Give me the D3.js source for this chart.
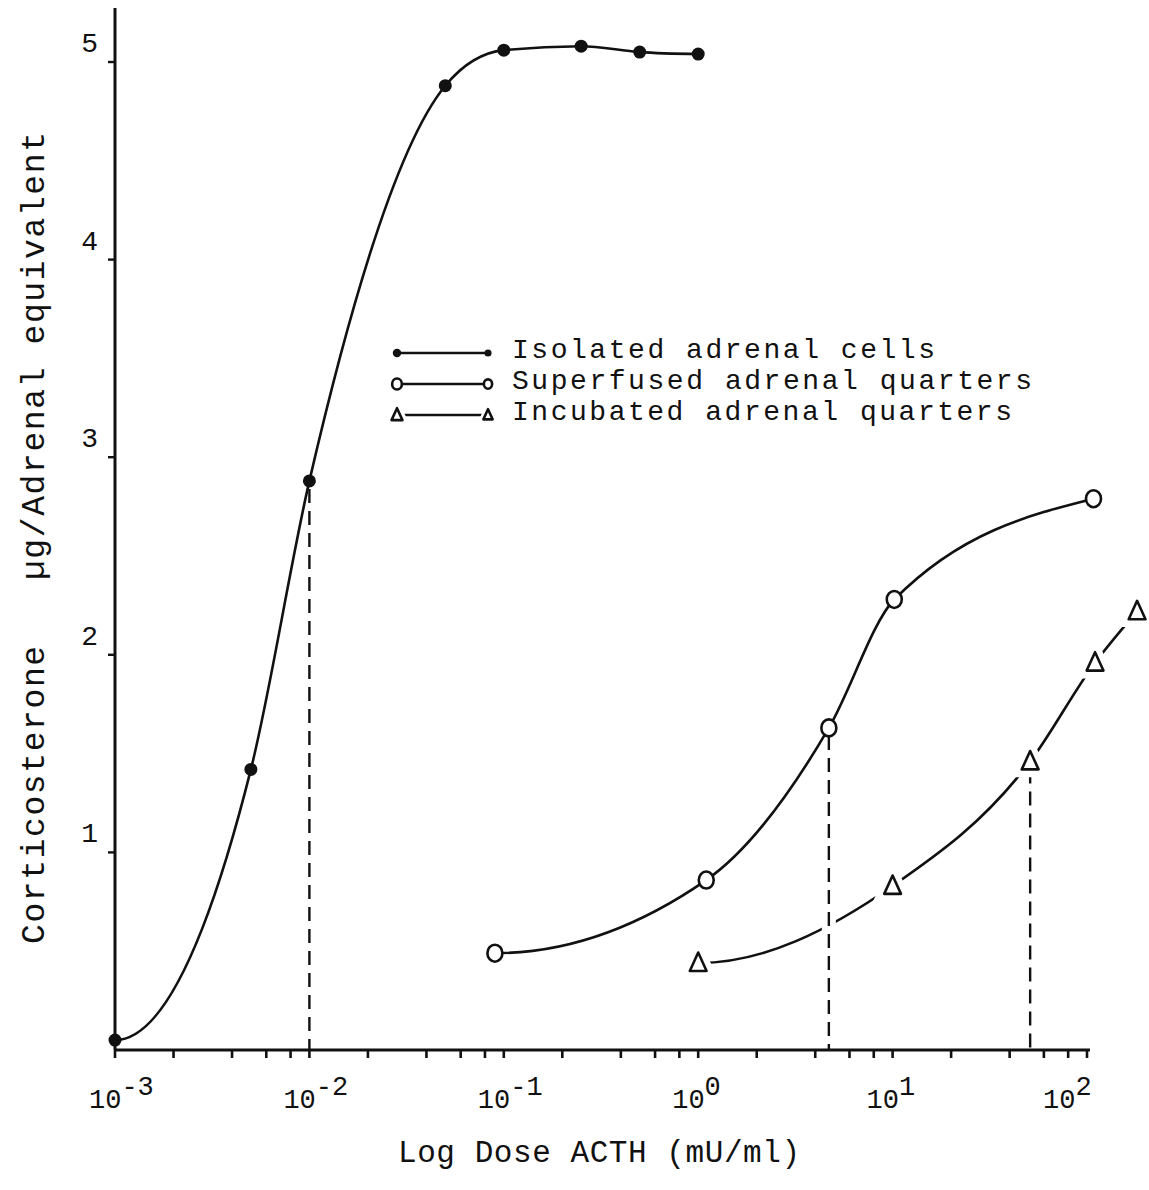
<!DOCTYPE html>
<html>
<head>
<meta charset="utf-8">
<script src="https://cdn.jsdelivr.net/npm/d3@7"></script>
<style>
  body { margin: 0; background: #fff; }
  text { font-family: "Courier New", "Liberation Mono", monospace; fill: #111; }
</style>
</head>
<body>
<svg width="1149" height="1190"></svg>
<script>
// dose (mU/ml) and corticosterone (ug / adrenal equivalent)
var isoDose = [0.001, 0.005, 0.01, 0.05, 0.1, 0.25, 0.5, 1];
var isoVal  = [0.05, 1.42, 2.88, 4.88, 5.06, 5.08, 5.05, 5.04];
var supDose = [0.09, 1.1, 4.7, 10.2, 108];
var supVal  = [0.49, 0.86, 1.63, 2.28, 2.79];
var incDose = [1, 10, 51, 110, 181];
var incVal  = [0.44, 0.83, 1.46, 1.96, 2.22];

var legendNames = ["Isolated adrenal cells", "Superfused adrenal quarters", "Incubated adrenal quarters"];
var decades = [-3, -2, -1, 0, 1, 2];
var minorMults = [1, 2, 4, 6, 8];
var yTicks = [1, 2, 3, 4, 5];
var dropIndex = 2; // point that has the dashed drop line in each series

var svg = d3.select("svg");
var x = d3.scaleLog().domain([1e-3, 1e2]).range([115, 1087]);
var y = d3.scaleLinear().domain([0, 5]).range([1050, 62]);

function zip(ds, vs) { return ds.map(function(d, i) { return { dose: d, v: vs[i] }; }); }
var series = [
    { name: legendNames[0], pts: zip(isoDose, isoVal), mark: "dot" },
    { name: legendNames[1], pts: zip(supDose, supVal), mark: "circle" },
    { name: legendNames[2], pts: zip(incDose, incVal), mark: "tri" }
];

// hand-drawn look: monotone hermite spline that leaves the first point flat
function smoothPath(pts) {
    var p = pts.map(function(d) { return [x(d.dose), y(d.v)]; });
    var n = p.length, s = [], m = [];
    for (var i = 0; i < n - 1; i++) s.push((p[i + 1][1] - p[i][1]) / (p[i + 1][0] - p[i][0]));
    for (var i = 1; i < n - 1; i++) {
        var h0 = p[i][0] - p[i - 1][0], h1 = p[i + 1][0] - p[i][0];
        var q = (s[i - 1] * h1 + s[i] * h0) / (h0 + h1);
        m[i] = (Math.sign(s[i - 1]) + Math.sign(s[i])) *
            Math.min(Math.abs(s[i - 1]), Math.abs(s[i]), 0.5 * Math.abs(q)) || 0;
    }
    m[0] = 0;
    m[n - 1] = (3 * s[n - 2] - m[n - 2]) / 2;
    var path = d3.path();
    path.moveTo(p[0][0], p[0][1]);
    for (var i = 0; i < n - 1; i++) {
        var h = (p[i + 1][0] - p[i][0]) / 3;
        path.bezierCurveTo(p[i][0] + h, p[i][1] + m[i] * h,
            p[i + 1][0] - h, p[i + 1][1] - m[i + 1] * h,
            p[i + 1][0], p[i + 1][1]);
    }
    return path.toString();
}

// curves
series.forEach(function(s) {
    svg.append("path")
        .attr("d", smoothPath(s.pts))
        .attr("fill", "none")
        .attr("stroke", "#111")
        .attr("stroke-width", 2.6);
});

// white gaps where the dashed drops cross another curve
series.forEach(function(s) {
    var p = s.pts[dropIndex];
    svg.append("line")
        .attr("x1", x(p.dose)).attr("x2", x(p.dose))
        .attr("y1", y(p.v) + 60).attr("y2", y(0) - 4)
        .attr("stroke", "#fff").attr("stroke-width", 14);
});

series.forEach(function(s) {
    var p = s.pts[dropIndex];
    svg.append("line")
        .attr("x1", x(p.dose)).attr("x2", x(p.dose))
        .attr("y1", y(p.v) + 8).attr("y2", y(0))
        .attr("stroke", "#111").attr("stroke-width", 2.4)
        .attr("stroke-dasharray", "14,8");
});

function triPath(cx, cy, s) {
    return "M" + cx + "," + (cy - s) + "L" + (cx + s * 0.8) + "," + (cy + s * 0.75) +
        "L" + (cx - s * 0.8) + "," + (cy + s * 0.75) + "Z";
}

function drawMark(g, kind, cx, cy, scale) {
    if (kind === "dot") {
        g.append("circle").attr("cx", cx).attr("cy", cy).attr("r", 6.5 * scale).attr("fill", "#111");
    } else if (kind === "circle") {
        g.append("ellipse").attr("cx", cx).attr("cy", cy).attr("rx", 7.5 * scale).attr("ry", 8.5 * scale)
            .attr("fill", "#fff").attr("stroke", "#111").attr("stroke-width", 2.6);
    } else {
        g.append("path").attr("d", triPath(cx, cy, 13 * scale))
            .attr("fill", "none").attr("stroke", "#fff").attr("stroke-width", 12 * scale);
        g.append("path").attr("d", triPath(cx, cy, 10.5 * scale))
            .attr("fill", "#fff").attr("stroke", "#111").attr("stroke-width", 2.6)
            .attr("stroke-linejoin", "round");
    }
}

series.forEach(function(s) {
    var g = svg.append("g");
    s.pts.forEach(function(p) { drawMark(g, s.mark, x(p.dose), y(p.v), 1); });
});

// axes
svg.append("line").attr("x1", x(1e-3)).attr("x2", x(1e-3)).attr("y1", 8).attr("y2", y(0))
    .attr("stroke", "#111").attr("stroke-width", 3);
svg.append("line").attr("x1", x(1e-3) - 1).attr("x2", x(1e2) + 3).attr("y1", y(0)).attr("y2", y(0))
    .attr("stroke", "#111").attr("stroke-width", 3);

var xTickVals = [];
decades.forEach(function(k) {
    minorMults.forEach(function(m) {
        if (k < 2 || m === 1) xTickVals.push(m * Math.pow(10, k));
    });
});
svg.selectAll(".xtick").data(xTickVals).enter().append("line")
    .attr("class", "xtick")
    .attr("x1", function(d) { return x(d); }).attr("x2", function(d) { return x(d); })
    .attr("y1", y(0)).attr("y2", y(0) + 8)
    .attr("stroke", "#111").attr("stroke-width", 2.6);

svg.selectAll(".ytick").data(yTicks).enter().append("line")
    .attr("class", "ytick")
    .attr("x1", x(1e-3) - 7).attr("x2", x(1e-3))
    .attr("y1", function(d) { return y(d); }).attr("y2", function(d) { return y(d); })
    .attr("stroke", "#111").attr("stroke-width", 2.4);

svg.selectAll(".ylab").data(yTicks).enter().append("text")
    .attr("class", "ylab")
    .attr("x", 98).attr("y", function(d) { return y(d) - 10; })
    .attr("text-anchor", "end")
    .attr("font-size", 28)
    .text(function(d) { return d; });

decades.forEach(function(k, i) {
    var tx = x(Math.pow(10, k)) - (i === decades.length - 1 ? 44 : 26);
    var t = svg.append("text").attr("x", tx).attr("y", 1108).attr("font-size", 27);
    t.append("tspan").text("10");
    t.append("tspan").attr("dy", -13).text(k < 0 ? "-" + (-k) : String(k));
});

svg.append("text").attr("x", 398).attr("y", 1162).attr("font-size", 31)
    .attr("textLength", 402).attr("lengthAdjust", "spacing")
    .text("Log Dose ACTH (mU/ml)");

svg.append("text")
    .attr("transform", "translate(44,944) rotate(-90)")
    .attr("font-size", 33)
    .attr("textLength", 812).attr("lengthAdjust", "spacing")
    .attr("xml:space", "preserve")
    .style("white-space", "pre")
    .text("Corticosterone   \u00b5g/Adrenal equivalent");

// legend
var legendWidths = [423, 520, 500];
series.forEach(function(s, i) {
    var ly = 353 + i * 31;
    var g = svg.append("g");
    g.append("line").attr("x1", 397).attr("x2", 488).attr("y1", ly).attr("y2", ly)
        .attr("stroke", "#111").attr("stroke-width", 2.6);
    drawMark(g, s.mark, 397, ly, 0.65);
    drawMark(g, s.mark, 488, ly, 0.55);
    g.append("text").attr("x", 512).attr("y", ly + 5).attr("font-size", 28)
        .attr("textLength", legendWidths[i]).attr("lengthAdjust", "spacing")
        .text(s.name);
});
</script>
</body>
</html>
